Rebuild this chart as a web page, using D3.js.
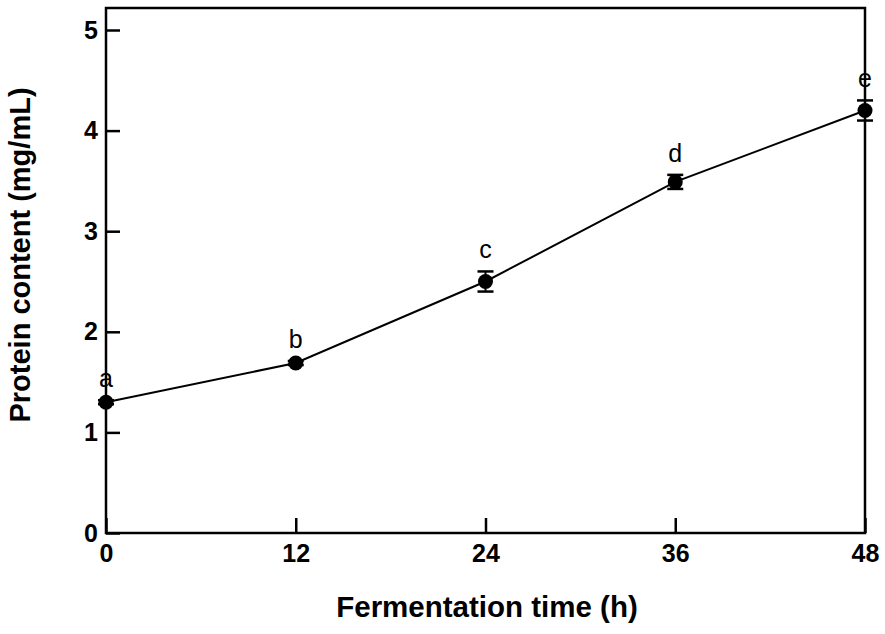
<!DOCTYPE html>
<html>
<head>
<meta charset="utf-8">
<script src="https://cdn.jsdelivr.net/npm/d3@7"></script>
<style>
  body { margin: 0; background: #fff; }
  text { font-family: Arial, "Liberation Sans", sans-serif; }
</style>
</head>
<body>
<div id="chart"></div>
<script>
// datos
var hours = [0, 12, 24, 36, 48];
var protein = [1.30, 1.69, 2.50, 3.49, 4.20];
var errors = [0.02, 0.02, 0.10, 0.07, 0.10];
var letters = ["a", "b", "c", "d", "e"];
var xTicks = [0, 12, 24, 36, 48];
var yTicks = [0, 1, 2, 3, 4, 5];

var W = 885, H = 634;
var mLeft = 106, mRight = 865, mTop = 8, mBottom = 533;

var svg = d3.select("#chart").append("svg")
  .attr("width", W).attr("height", H);

var x = d3.scaleLinear().domain([0, 48]).range([mLeft, mRight]);
var y = d3.scaleLinear().domain([0, 5]).range([mBottom, 30]);

// marco
svg.append("rect")
  .attr("x", mLeft).attr("y", mTop)
  .attr("width", mRight - mLeft).attr("height", mBottom - mTop)
  .attr("fill", "none").attr("stroke", "#000").attr("stroke-width", 2.5);

// ejes con ticks hacia dentro
var gx = svg.append("g")
  .attr("transform", "translate(0," + mBottom + ")")
  .call(d3.axisBottom(x).tickValues(xTicks).tickSize(-15).tickPadding(12).tickFormat(d3.format("d")));
var gy = svg.append("g")
  .attr("transform", "translate(" + mLeft + ",0)")
  .call(d3.axisLeft(y).tickValues(yTicks).tickSize(-14).tickPadding(8).tickFormat(d3.format("d")));

[gx, gy].forEach(function(g) {
  g.select(".domain").remove();
  g.selectAll(".tick line").attr("stroke", "#000").attr("stroke-width", 2.5);
  g.selectAll(".tick text")
    .attr("fill", "#000")
    .attr("font-size", 25)
    .attr("font-weight", "bold");
});
gx.selectAll(".tick text").attr("y", 11).attr("dy", "0.71em");
gy.selectAll(".tick text").attr("x", -8);

// títulos de ejes
svg.append("text")
  .attr("x", 487).attr("y", 617)
  .attr("text-anchor", "middle")
  .attr("font-size", 29.5).attr("font-weight", "bold")
  .text("Fermentation time (h)");

svg.append("text")
  .attr("transform", "translate(30,255) rotate(-90)")
  .attr("text-anchor", "middle")
  .attr("font-size", 29).attr("font-weight", "bold")
  .text("Protein content (mg/mL)");

var data = hours.map(function(h, i) {
  return { h: h, v: protein[i], e: errors[i], l: letters[i] };
});

// línea
svg.append("path")
  .datum(data)
  .attr("fill", "none").attr("stroke", "#000").attr("stroke-width", 2)
  .attr("d", d3.line().x(function(d) { return x(d.h); }).y(function(d) { return y(d.v); }));

// barras de error
var eb = svg.append("g").selectAll("g").data(data).enter().append("g");
eb.append("line")
  .attr("x1", function(d) { return x(d.h); }).attr("x2", function(d) { return x(d.h); })
  .attr("y1", function(d) { return y(d.v - d.e); }).attr("y2", function(d) { return y(d.v + d.e); })
  .attr("stroke", "#000").attr("stroke-width", 2);
[-1, 1].forEach(function(s) {
  eb.append("line")
    .attr("x1", function(d) { return x(d.h) - 8; }).attr("x2", function(d) { return x(d.h) + 8; })
    .attr("y1", function(d) { return y(d.v + s * d.e); }).attr("y2", function(d) { return y(d.v + s * d.e); })
    .attr("stroke", "#000").attr("stroke-width", 2.5);
});

// puntos
svg.append("g").selectAll("circle").data(data).enter().append("circle")
  .attr("cx", function(d) { return x(d.h); })
  .attr("cy", function(d) { return y(d.v); })
  .attr("r", 7.5)
  .attr("fill", "#000");

// letras de significancia
svg.append("g").selectAll("text").data(data).enter().append("text")
  .attr("x", function(d) { return x(d.h); })
  .attr("y", function(d) { return y(d.v + d.e) - 13; })
  .attr("text-anchor", "middle")
  .attr("font-size", 25)
  .text(function(d) { return d.l; });
</script>
</body>
</html>
